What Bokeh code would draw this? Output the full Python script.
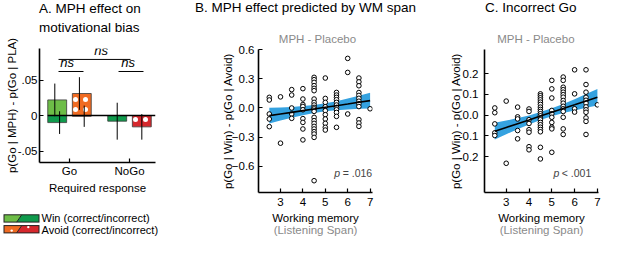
import numpy as np
from bokeh.plotting import figure
from bokeh.models import Range1d, FixedTicker, LinearAxis, Title, Label, Div
from bokeh.layouts import row, column
from bokeh.embed import file_html
from bokeh.resources import INLINE
from bokeh.core.properties import value

FONT = "Liberation Sans"
FS = "11.5px"
GRAY = "#8a8a8a"
BLUE = "#35a2e0"
LIGHT_GREEN = "#6dbd47"
DARK_GREEN = "#0f9a4c"
ORANGE = "#f06b22"
RED = "#d6282d"

# ---------------- Panel A data ----------------
cue_labels = ["Go", "NoGo"]
cue_pos = [1, 2]
win_correct = [0.022, 0.0]
win_correct_err = [0.023, 0.0]
win_incorrect = [-0.010, -0.008]
win_incorrect_err = [0.016, 0.026]
avoid_correct = [0.031, 0.0]
avoid_correct_err = [0.023, 0.0]
avoid_incorrect = [-0.001, -0.016]
avoid_incorrect_err = [0.015, 0.018]
a_yticks = [-0.05, 0.0, 0.05]
a_yticklabels = ["-.05", "0", ".05"]
legend_labels = ["Win (correct/incorrect)", "Avoid (correct/incorrect)"]

# ---------------- Panel B data ----------------
wm_b = ([2.5] * 5 + [3.0] * 2 + [3.5] * 5 + [4.0] * 9 + [4.5] * 21 + [5.0] * 10
        + [5.5] * 11 + [6.0] * 3 + [6.5] * 12 + [7.0] * 1)
diff_b = [0.11, 0.083, -0.062, -0.114, -0.193,
          0.115, -0.364,
          0.19, 0.134, 0.0, -0.062, -0.107,
          0.20, 0.093, 0.036, 0.016, -0.018, -0.11, -0.149, -0.217, -0.33,
          0.317, 0.293, 0.265, 0.231, 0.203, 0.179, 0.093, 0.058, 0.031, 0.006, -0.010,
          -0.035, -0.097, -0.131, -0.159, -0.190, -0.217, -0.245, -0.269, -0.304, -0.752,
          0.31, 0.099, 0.058, 0.013, -0.028, -0.069, -0.114, -0.159, -0.2, -0.228,
          0.161, 0.134, 0.11, 0.086, 0.058, 0.031, 0.006, -0.018, -0.046, -0.087, -0.2,
          0.513, 0.368, -0.062,
          0.31, 0.27, 0.23, 0.16, 0.13, 0.10, 0.07, 0.045, 0.015, -0.12, -0.155, -0.19,
          -0.008]
fit_x = [2.5, 3.0, 3.5, 4.0, 4.5, 5.0, 5.5, 6.0, 6.5, 7.0]
fit_b = [-0.079, -0.062, -0.045, -0.027, -0.010, 0.007, 0.024, 0.041, 0.059, 0.076]
lo_b = [-0.161, -0.130, -0.101, -0.074, -0.051, -0.034, -0.023, -0.015, -0.009, -0.006]
hi_b = [0.003, 0.006, 0.011, 0.020, 0.031, 0.048, 0.071, 0.097, 0.127, 0.158]
b_yticks = [-0.6, -0.3, 0.0, 0.3, 0.6]
b_yticklabels = ["\u22120.6", "\u22120.3", "0.0", "0.3", "0.6"]

# ---------------- Panel C data ----------------
wm_c = ([2.5] * 5 + [3.0] * 2 + [3.5] * 5 + [4.0] * 8 + [4.5] * 20 + [5.0] * 10
        + [5.5] * 15 + [6.0] * 4 + [6.5] * 12 + [7.0] * 1)
diff_c = [0.035, 0.012, -0.042, -0.085, -0.098,
          0.068, -0.232,
          0.039, -0.008, -0.018, -0.074, -0.114,
          0.03, 0.018, -0.022, -0.04, -0.07, -0.082, -0.152, -0.167,
          0.103, 0.094, 0.084, 0.074, 0.063, 0.052, 0.039, 0.028, 0.018, 0.007,
          -0.003, -0.013, -0.022, -0.035, -0.046, -0.058, -0.069, -0.080, -0.155, -0.211,
          0.168, 0.127, 0.083, 0.023, 0.007, -0.01, -0.035, -0.058, -0.066, -0.179,
          0.184, 0.168, 0.135, 0.123, 0.111, 0.099, 0.087, 0.071, 0.058, 0.043, 0.031,
          0.018, -0.01, -0.066, -0.093,
          0.219, 0.103, 0.031, 0.015,
          0.219, 0.148, 0.111, 0.086, 0.072, 0.058, 0.04, 0.026, 0.014, -0.013, -0.03, -0.093,
          0.05]
fit_c = [-0.077, -0.059, -0.041, -0.023, -0.004, 0.014, 0.032, 0.050, 0.069, 0.087]
lo_c = [-0.117, -0.092, -0.068, -0.045, -0.023, -0.005, 0.010, 0.023, 0.036, 0.047]
hi_c = [-0.037, -0.026, -0.014, -0.001, 0.015, 0.033, 0.054, 0.077, 0.102, 0.127]
c_yticks = [-0.2, -0.1, 0.0, 0.1, 0.2]
c_yticklabels = ["-0.2", "-0.1", "0.0", "0.1", "0.2"]
wm_ticks = [3, 4, 5, 6, 7]


def style_axes(p):
    for ax in p.xaxis + p.yaxis:
        ax.axis_line_width = 1.6
        ax.axis_line_color = "black"
        ax.major_tick_in = 4
        ax.major_tick_out = 0
        ax.minor_tick_in = 0
        ax.minor_tick_out = 0
        ax.major_tick_line_width = 1.2
        ax.minor_tick_line_color = None
        ax.major_label_text_font = FONT
        ax.major_label_text_font_size = FS
        ax.major_label_text_color = "black"
        ax.axis_label_text_font = FONT
        ax.axis_label_text_font_size = FS
        ax.axis_label_text_font_style = "normal"
        ax.axis_label_text_color = "black"
    p.grid.visible = False
    p.outline_line_color = None
    p.background_fill_color = "white"
    p.border_fill_color = "white"


def svg_div(width, height, body):
    html = (f'<svg xmlns="http://www.w3.org/2000/svg" width="{width}" height="{height}" '
            f'style="display:block" font-family="{FONT}">{body}</svg>')
    return Div(text=html, width=width, height=height, margin=(0, 0, 0, 0))


def title_text(x, y, text, size="13.5px"):
    return f'<text x="{x}" y="{y}" font-size="{size}" fill="black">{text}</text>'


# ================= Panel A =================
pa = figure(width=192, height=166, x_range=Range1d(0.5, 2.433), y_range=Range1d(-0.0662, 0.0944),
            output_backend="svg", toolbar_location=None, title_location=None,
            min_border_left=39, min_border_right=37, min_border_top=14, min_border_bottom=38)
style_axes(pa)

BAR_OFF = 0.205
BAR_W = 0.315
xw = [c - BAR_OFF for c in cue_pos]
xa = [c + BAR_OFF for c in cue_pos]
outline = dict(line_color="#3a3a3a", line_width=0.8)
dots = dict(hatch_pattern="dot", hatch_color="white", hatch_scale=10, hatch_weight=1.6)
pa.vbar(x=xw, top=win_correct, bottom=0, width=BAR_W, fill_color=LIGHT_GREEN, **outline)
pa.vbar(x=xw, top=win_incorrect, bottom=0, width=BAR_W, fill_color=DARK_GREEN, **outline)
pa.vbar(x=xa, top=avoid_correct, bottom=0, width=BAR_W, fill_color=ORANGE, **dots, **outline)
pa.vbar(x=xa, top=avoid_incorrect, bottom=0, width=BAR_W, fill_color=RED, **dots, **outline)

# zero line
pa.segment(x0=[xw[0] - BAR_W / 2], x1=[2.433], y0=[0], y1=[0], line_color="black", line_width=1.4)

# error bars (correct slightly left, incorrect slightly right in the Go group)
ERR_DX = [0.04, 0.0]
for xs, vals, errs, sign in [(xw, win_correct, win_correct_err, -1), (xw, win_incorrect, win_incorrect_err, 1),
                             (xa, avoid_correct, avoid_correct_err, -1), (xa, avoid_incorrect, avoid_incorrect_err, 1)]:
    keep = [i for i, e in enumerate(errs) if e > 0]
    ex = [xs[i] + sign * ERR_DX[i] for i in keep]
    pa.segment(x0=ex, x1=ex, y0=[vals[i] - errs[i] for i in keep], y1=[vals[i] + errs[i] for i in keep],
               line_color="black", line_width=1)

# significance brackets
br_x0 = [0.817, 1.817, 0.817]
br_x1 = [1.233, 2.233, 2.017]
br_y = [0.062, 0.062, 0.079]
br_tx = [0.96, 1.975, 1.525]
pa.segment(x0=br_x0, x1=br_x1, y0=br_y, y1=br_y, line_color="black", line_width=1)
pa.text(x=br_tx, y=br_y, text=["ns", "ns", "ns"],
        text_font=value(FONT), text_font_size="13px", text_font_style="italic",
        text_align="center", text_baseline="bottom", y_offset=-1)

pa.yaxis.ticker = FixedTicker(ticks=a_yticks)
pa.yaxis.major_label_overrides = dict(zip(a_yticks, a_yticklabels))
pa.yaxis.major_label_standoff = 2
pa.yaxis.axis_label = "p(Go | MPH) - p(Go | PLA)"
pa.yaxis.axis_label_standoff = -3
pa.xaxis.ticker = FixedTicker(ticks=cue_pos)
pa.xaxis.major_label_overrides = dict(zip(cue_pos, cue_labels))
pa.xaxis.major_label_standoff = 2
pa.xaxis.axis_label = "Required response"
pa.xaxis.axis_label_standoff = 2

title_a = svg_div(192, 34, title_text(39, 13.3, "A. MPH effect on") + title_text(39, 31.7, "motivational bias"))


# ================= Legend for Panel A =================
def legend_row(top, c1, c2, dot_xy):
    bot = top + 7.3
    s = (f'<polygon points="4,{bot} 16.7,{bot} 21.7,{top} 4,{top}" fill="{c1}"/>'
         f'<polygon points="16.7,{bot} 39,{bot} 39,{top} 21.7,{top}" fill="{c2}"/>'
         f'<line x1="16.7" y1="{bot}" x2="21.7" y2="{top}" stroke="#222" stroke-width="1"/>'
         f'<rect x="4" y="{top}" width="35" height="7.3" fill="none" stroke="#222" stroke-width="1"/>')
    for (dx, dy) in dot_xy:
        s += f'<circle cx="{dx}" cy="{dy}" r="1.2" fill="white"/>'
    return s


leg_body = (legend_row(14.8, LIGHT_GREEN, DARK_GREEN, [])
            + legend_row(25.6, ORANGE, RED, [(11.7, 30.6), (28.3, 27.1)])
            + f'<text x="41.5" y="22.2" font-size="11px" fill="black">{legend_labels[0]}</text>'
            + f'<text x="41.5" y="33.7" font-size="11px" fill="black">{legend_labels[1]}</text>')
legend_div = svg_div(192, 56, leg_body)


# ================= Panels B and C =================
def scatter_panel(width, xr, yr, mbl, mbr, x, y, fit, lo, hi, yticks, yticklabels, ylab_standoff,
                  ytick_standoff, sub_off, ptext, ploc):
    p = figure(width=width, height=230, x_range=Range1d(*xr), y_range=Range1d(*yr),
               output_backend="svg", toolbar_location=None, title_location=None,
               min_border_left=mbl, min_border_right=mbr, min_border_top=23, min_border_bottom=64)
    style_axes(p)
    p.add_layout(Title(text="MPH - Placebo", align="left", offset=sub_off, standoff=7,
                       vertical_align="middle", text_font=FONT, text_font_size=FS,
                       text_font_style="normal", text_color=GRAY), "above")
    p.varea(x=fit_x, y1=lo, y2=hi, fill_color=BLUE, fill_alpha=1.0)
    p.scatter(x=x, y=y, size=4.6, fill_color="white", line_color="black", line_width=1)
    p.line(x=fit_x, y=fit, line_color="black", line_width=1.6)
    p.yaxis.ticker = FixedTicker(ticks=yticks)
    p.yaxis.major_label_overrides = dict(zip(yticks, yticklabels))
    p.yaxis.major_label_standoff = ytick_standoff
    p.yaxis.axis_label = "p(Go | Win) - p(Go | Avoid)"
    p.yaxis.axis_label_standoff = ylab_standoff
    p.xaxis.ticker = FixedTicker(ticks=wm_ticks)
    p.xaxis.major_label_standoff = 5
    p.xaxis.axis_label = "Working memory"
    p.xaxis.axis_label_standoff = 3
    ax2 = LinearAxis(ticker=FixedTicker(ticks=[]), axis_label="(Listening Span)",
                     axis_line_color=None, major_tick_line_color=None, minor_tick_line_color=None,
                     major_tick_in=0, major_tick_out=0, minor_tick_in=0, minor_tick_out=0,
                     axis_label_standoff=-3, axis_label_text_color=GRAY, axis_label_text_font=FONT,
                     axis_label_text_font_size=FS, axis_label_text_font_style="normal")
    p.add_layout(ax2, "below")
    p.add_layout(Label(x=ploc[0], y=ploc[1], text="p", text_font=FONT, text_font_size="10.5px",
                       text_font_style="italic", text_baseline="middle"))
    p.add_layout(Label(x=ploc[0], y=ploc[1], x_offset=8.4, text=ptext, text_font=FONT,
                       text_font_size="10.5px", text_baseline="middle"))
    return p


pb = scatter_panel(238, (2.018, 7.107), (-0.874, 0.605), 66, 58, wm_b, diff_b, fit_b, lo_b, hi_b,
                   b_yticks, b_yticklabels, -5, 4, 20.3, "= .016", (5.40, -0.677))
pc = scatter_panel(187, (2.048, 7.048), (-0.373, 0.317), 54, 19, wm_c, diff_c, fit_c, lo_c, hi_c,
                   c_yticks, c_yticklabels, -6, 6, 12.7, "< .001", (5.07, -0.281))

title_b = svg_div(238, 26, title_text(3, 12.3, "B. MPH effect predicted by WM span"))
title_c = svg_div(187, 26, title_text(55, 12.3, "C. Incorrect Go"))

layout = row(column(title_a, pa, legend_div), column(title_b, pb), column(title_c, pc))
layout.styles = {"position": "absolute", "left": "0px", "top": "0px"}

open("out.html", "w").write(file_html(layout, INLINE))
